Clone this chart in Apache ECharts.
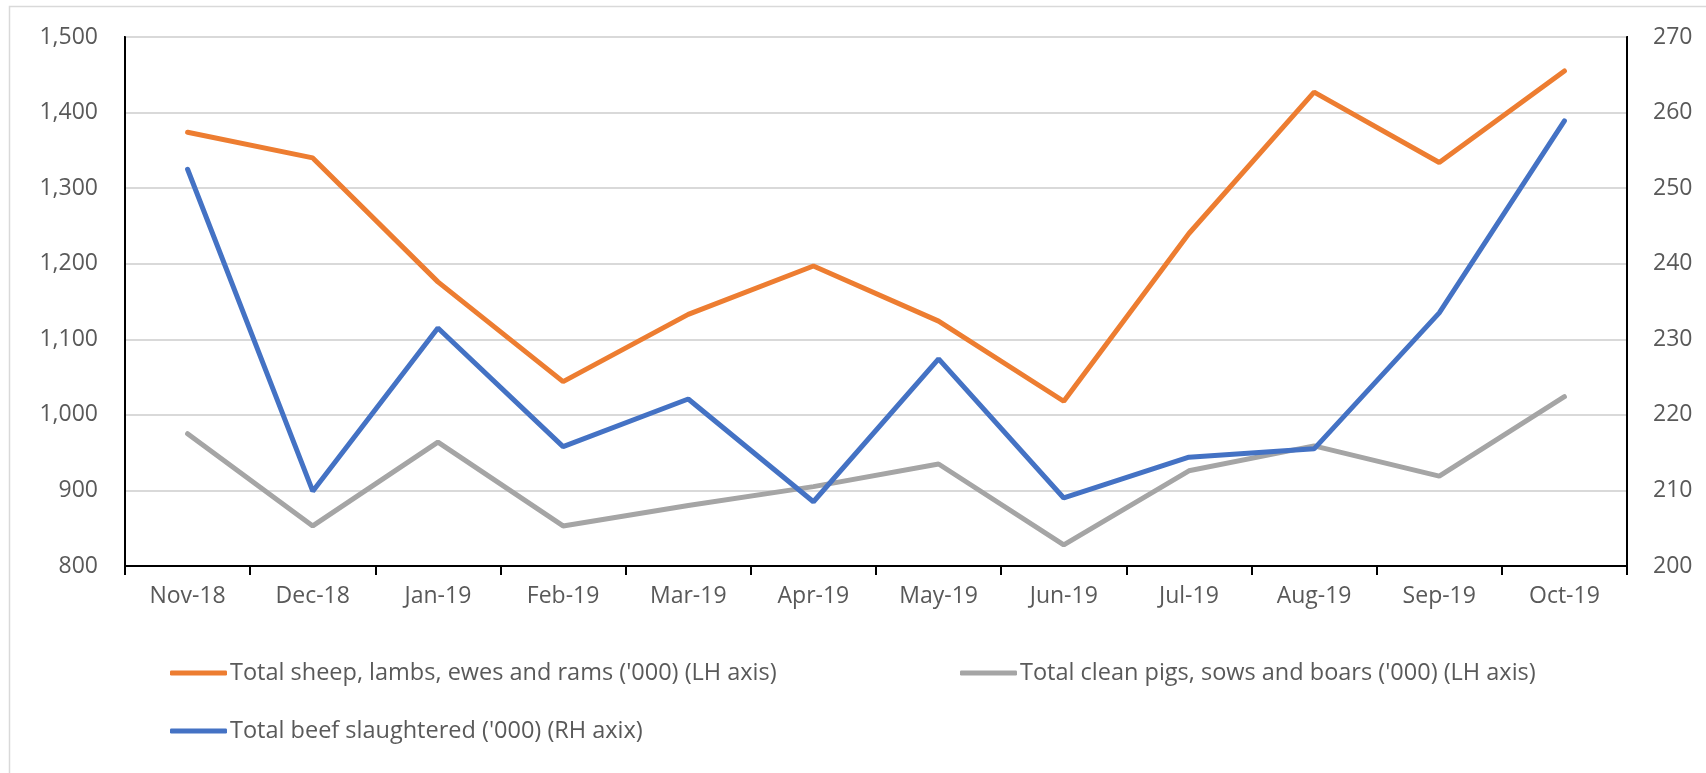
<!DOCTYPE html>
<html>
<head>
<meta charset="utf-8">
<title>Slaughterings</title>
<script src="https://cdn.jsdelivr.net/npm/echarts@6/dist/echarts.min.js"></script>
<style>
  html, body { margin: 0; padding: 0; background: #fff; }
  #main { width: 1706px; height: 773px; }
</style>
</head>
<body>
<div id="main"></div>
<script>
const months = ['Nov-18', 'Dec-18', 'Jan-19', 'Feb-19', 'Mar-19', 'Apr-19',
  'May-19', 'Jun-19', 'Jul-19', 'Aug-19', 'Sep-19', 'Oct-19'];
// LH axis ('000)
const sheep = [1374, 1340, 1176, 1044, 1133, 1197, 1124, 1018, 1240, 1427, 1334, 1455];
const pigs = [975, 853, 964, 853, 880, 905, 935, 828, 926, 959, 919, 1024];
// RH axis ('000)
const beef = [252.5, 209.9, 231.5, 215.8, 222.1, 208.5, 227.4, 209.0, 214.4, 215.5, 233.5, 258.9];

const sheepName = "Total sheep, lambs, ewes and rams ('000) (LH axis)";
const pigsName = "Total clean pigs, sows and boars ('000) (LH axis)";
const beefName = "Total beef slaughtered ('000) (RH axix)";

const font = '"Open Sans", sans-serif';
const grey = '#595959';

function legendAt(name, left, top) {
  return {
    data: [name],
    left: left,
    top: top,
    icon: 'roundRect',
    itemWidth: 57,
    itemHeight: 5,
    itemGap: 0,
    selectedMode: false,
    textStyle: { color: grey, fontSize: 23.5, fontFamily: font, padding: [0, 0, 0, -2] }
  };
}

const chart = echarts.init(document.getElementById('main'));
chart.setOption({
  animation: false,
  backgroundColor: '#fff',
  graphic: [{
    type: 'rect',
    shape: { x: 9.5, y: 6.5, width: 1720, height: 800 },
    style: { fill: 'none', stroke: '#D9D9D9', lineWidth: 1.5 },
    silent: true
  }],
  grid: {
    left: 125, right: 79, top: 37, bottom: 207,
    show: true, borderColor: '#000', borderWidth: 2
  },
  legend: [
    legendAt(sheepName, 165, 656),
    legendAt(pigsName, 955, 656),
    legendAt(beefName, 165, 714)
  ],
  xAxis: {
    type: 'category',
    data: months,
    boundaryGap: true,
    axisLine: { lineStyle: { color: '#000', width: 2 } },
    axisTick: { show: true, length: 9, lineStyle: { color: '#000', width: 2 } },
    axisLabel: { color: grey, fontSize: 23, fontFamily: font, margin: 19 }
  },
  yAxis: [{
    type: 'value',
    min: 800, max: 1500, interval: 100,
    axisLine: { show: true, lineStyle: { color: '#000', width: 2 } },
    axisTick: { show: false },
    splitLine: { lineStyle: { color: '#D9D9D9', width: 2 } },
    axisLabel: {
      color: grey, fontSize: 23, fontFamily: font, margin: 27,
      formatter: v => v.toLocaleString('en-US')
    }
  }, {
    type: 'value',
    min: 200, max: 270, interval: 10,
    axisLine: { show: true, lineStyle: { color: '#000', width: 2 } },
    axisTick: { show: false },
    splitLine: { show: false },
    axisLabel: { color: grey, fontSize: 23, fontFamily: font, margin: 26 }
  }],
  series: [{
    name: sheepName, type: 'line', data: sheep, yAxisIndex: 0,
    symbol: 'none', color: '#ED7D31',
    lineStyle: { width: 5, cap: 'round' }
  }, {
    name: pigsName, type: 'line', data: pigs, yAxisIndex: 0,
    symbol: 'none', color: '#A5A5A5',
    lineStyle: { width: 5, cap: 'round' }
  }, {
    name: beefName, type: 'line', data: beef, yAxisIndex: 1,
    symbol: 'none', color: '#4472C4',
    lineStyle: { width: 5, cap: 'round' }
  }]
});
</script>
</body>
</html>
